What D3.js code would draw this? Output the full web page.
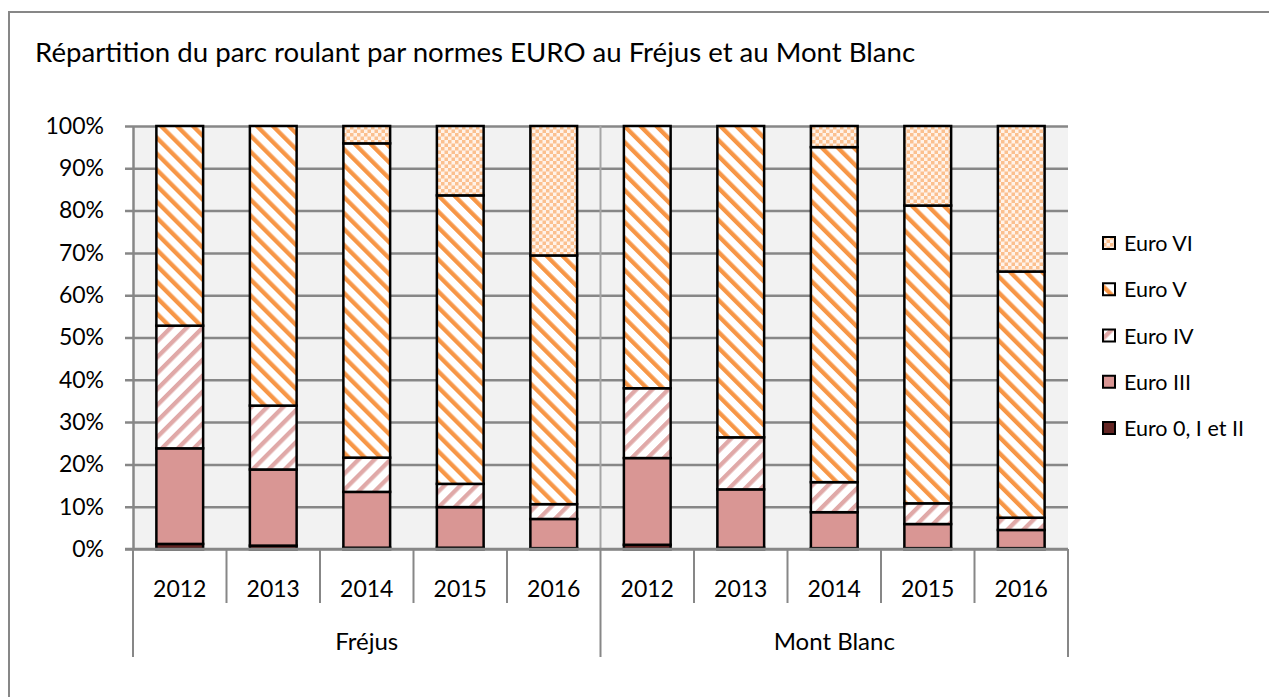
<!DOCTYPE html>
<html>
<head>
<meta charset="utf-8">
<script src="https://cdn.jsdelivr.net/npm/d3@7"></script>
<style>
  body { margin: 0; background: #fff; }
  svg text { font-family: Lato, "Open Sans", sans-serif; fill: #000; }
</style>
</head>
<body>
<div id="chart"></div>
<script>
// data (percent of fleet)
const groups = ["Fréjus", "Mont Blanc"];
const years = ["2012", "2013", "2014", "2015", "2016"];
const seriesNames = ["Euro 0, I et II", "Euro III", "Euro IV", "Euro V", "Euro VI"];
const euro0to2 = [1.2, 0.8, 0.3, 0.3, 0.2, 1.0, 0.3, 0.2, 0.2, 0.2];
const euro3 = [22.6, 18.0, 13.2, 9.6, 6.9, 20.5, 13.8, 8.5, 5.7, 4.3];
const euro4 = [29.0, 15.1, 8.1, 5.5, 3.5, 16.5, 12.3, 7.1, 4.9, 2.9];
const euro5 = [47.2, 66.1, 74.3, 68.2, 58.8, 62.0, 73.6, 79.2, 70.4, 58.2];
const euro6 = [0, 0, 4.1, 16.4, 30.6, 0, 0, 5.0, 18.8, 34.4];
const yTicks = [0, 10, 20, 30, 40, 50, 60, 70, 80, 90, 100];

const seriesValues = [euro0to2, euro3, euro4, euro5, euro6];
const fills = ["#632523", "#d99694", "url(#pIV)", "url(#pV)", "url(#pVI)"];

const width = 1269, height = 697;
const svg = d3.select("#chart").append("svg")
    .attr("width", width).attr("height", height);

// build rows for the stack: one per group/year
const rows = [];
groups.forEach((g, gi) => {
    years.forEach((y, yi) => {
        const i = gi * years.length + yi;
        const row = { key: g + "|" + y, group: g, year: y };
        seriesNames.forEach((s, si) => { row[s] = seriesValues[si][i]; });
        rows.push(row);
    });
});

const plotLeft = 133, plotRight = 1068, plotTop = 126, plotBottom = 549;
const gridColor = "#878787";

const x = d3.scaleBand()
    .domain(rows.map(d => d.key))
    .range([plotLeft, plotRight])
    .paddingInner(0.5)
    .paddingOuter(0.25);
const y = d3.scaleLinear().domain([0, 100]).range([plotBottom, plotTop]);

// patterns
const defs = svg.append("defs");
const pVI = defs.append("pattern").attr("id", "pVI")
    .attr("patternUnits", "userSpaceOnUse").attr("width", 7).attr("height", 7);
pVI.append("rect").attr("width", 7).attr("height", 7).attr("fill", "#fff3ea");
pVI.append("rect").attr("width", 3.5).attr("height", 3.5).attr("fill", "#fbc08f");
pVI.append("rect").attr("x", 3.5).attr("y", 3.5).attr("width", 3.5).attr("height", 3.5).attr("fill", "#fbc08f");

const stripes = (id, color, angle) => {
    const p = defs.append("pattern").attr("id", id)
        .attr("patternUnits", "userSpaceOnUse")
        .attr("width", 11.3).attr("height", 11.3)
        .attr("patternTransform", `rotate(${angle})`);
    p.append("rect").attr("width", 11.3).attr("height", 11.3).attr("fill", "#fff");
    p.append("rect").attr("width", 4.3).attr("height", 11.3).attr("fill", color);
};
stripes("pV", "#f79646", -45);
stripes("pIV", "#e0a9a8", 45);

// outer frame
svg.append("rect")
    .attr("x", 9).attr("y", 12).attr("width", 1300).attr("height", 720)
    .attr("fill", "none").attr("stroke", gridColor).attr("stroke-width", 2);

svg.append("text")
    .attr("x", 35).attr("y", 62)
    .attr("font-size", 27.6)
    .text("Répartition du parc roulant par normes EURO au Fréjus et au Mont Blanc");

// plot background
svg.append("rect")
    .attr("x", plotLeft).attr("y", plotTop)
    .attr("width", plotRight - plotLeft).attr("height", plotBottom - plotTop)
    .attr("fill", "#f2f2f2");

// y axis with gridlines
const yAxis = svg.append("g")
    .attr("transform", `translate(${plotLeft},0)`)
    .call(d3.axisLeft(y).tickValues(yTicks).tickFormat(d => d + "%")
        .tickSizeInner(-(plotRight - plotLeft)).tickSizeOuter(0).tickPadding(29));
yAxis.select(".domain").attr("stroke", gridColor).attr("stroke-width", 2.5);
yAxis.selectAll(".tick line")
    .attr("x1", -8)
    .attr("stroke", gridColor).attr("stroke-width", 2.5);
yAxis.selectAll(".tick text")
    .attr("font-size", 23).attr("font-family", "Lato, sans-serif").attr("fill", "#000");

// separator between the two tunnels in the plot
const sepX = (x(rows[4].key) + x.bandwidth() + x(rows[5].key)) / 2;
svg.append("line")
    .attr("x1", sepX).attr("x2", sepX).attr("y1", plotTop).attr("y2", plotBottom)
    .attr("stroke", "#a6a6a6").attr("stroke-width", 2);

// stacked bars
const stack = d3.stack().keys(seriesNames)(rows);
svg.append("g").selectAll("g")
    .data(stack)
    .join("g")
    .attr("fill", (d, i) => fills[i])
    .selectAll("rect")
    .data(d => d.filter(s => s[1] - s[0] > 0))
    .join("rect")
    .attr("x", d => x(d.data.key))
    .attr("y", d => y(d[1]))
    .attr("width", x.bandwidth())
    .attr("height", d => y(d[0]) - y(d[1]))
    .attr("stroke", "#000")
    .attr("stroke-width", 2.5);

// category axis (years and tunnels)
const step = x.step();
const catAxis = svg.append("g");
catAxis.append("line")
    .attr("x1", plotLeft - 8).attr("x2", plotRight)
    .attr("y1", plotBottom).attr("y2", plotBottom)
    .attr("stroke", gridColor).attr("stroke-width", 2.5);
rows.forEach((d, i) => {
    const left = x(d.key) - x.paddingInner() * step / 2;
    const isGroupStart = i % years.length === 0;
    catAxis.append("line")
        .attr("x1", left).attr("x2", left)
        .attr("y1", plotBottom).attr("y2", isGroupStart ? 657 : 603)
        .attr("stroke", gridColor).attr("stroke-width", 2);
    catAxis.append("text")
        .attr("x", x(d.key) + x.bandwidth() / 2).attr("y", 597)
        .attr("text-anchor", "middle").attr("font-size", 23)
        .text(d.year);
});
catAxis.append("line")
    .attr("x1", plotRight).attr("x2", plotRight)
    .attr("y1", plotBottom).attr("y2", 657)
    .attr("stroke", gridColor).attr("stroke-width", 2);
groups.forEach((g, gi) => {
    const first = rows[gi * years.length], last = rows[gi * years.length + years.length - 1];
    catAxis.append("text")
        .attr("x", (x(first.key) + x(last.key) + x.bandwidth()) / 2).attr("y", 650)
        .attr("text-anchor", "middle").attr("font-size", 24)
        .text(g);
});

// legend, top item is Euro VI
const legendY = d3.scalePoint().domain(seriesNames.slice().reverse()).range([243, 428]);
const legend = svg.append("g").selectAll("g")
    .data(seriesNames.slice().reverse())
    .join("g")
    .attr("transform", d => `translate(1103,${legendY(d)})`);
legend.append("rect")
    .attr("x", 0).attr("y", -6).attr("width", 12).attr("height", 12)
    .attr("fill", d => fills[seriesNames.indexOf(d)])
    .attr("stroke", "#000").attr("stroke-width", 2);
legend.append("text")
    .attr("x", 21).attr("y", 8)
    .attr("font-size", 21.5)
    .text(d => d);
</script>
</body>
</html>
